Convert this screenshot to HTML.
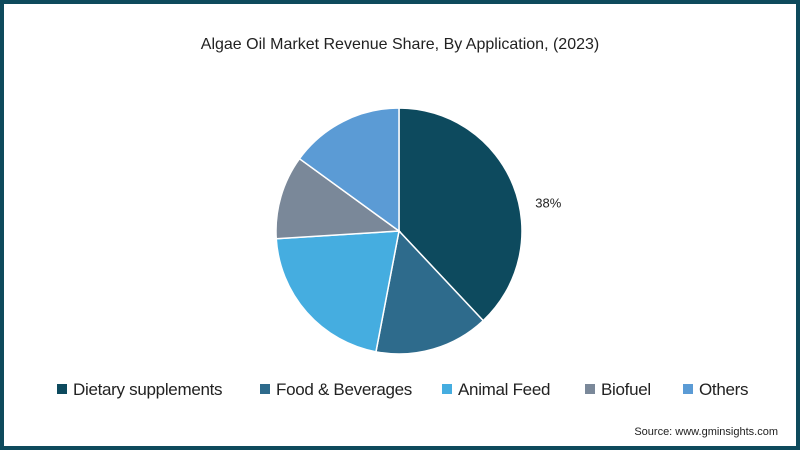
<!DOCTYPE html>
<html><head><meta charset="utf-8"><style>
body{margin:0;width:800px;height:450px;overflow:hidden;font-family:"Liberation Sans",sans-serif;}
#frame{position:absolute;left:0;top:0;width:792px;height:442px;border:4px solid #0e4a5c;background:#fff;}
.t{position:absolute;white-space:nowrap;color:#222;}
.leg{position:absolute;top:380px;font-size:17px;color:#222;white-space:nowrap;letter-spacing:-0.3px;}
.leg i{display:inline-block;width:10px;height:10px;margin-right:6px;vertical-align:1px;}
</style></head><body>
<div id="frame"></div>
<div class="t" style="left:0;width:800px;text-align:center;top:36px;font-size:16px;">Algae Oil Market Revenue Share, By Application, (2023)</div>
<svg id="pie" width="800" height="450" style="position:absolute;left:0;top:0"></svg>
<div class="leg" style="left:57px"><i style="background:#0d4a5e"></i>Dietary supplements</div>
<div class="leg" style="left:260px"><i style="background:#2e6b8c"></i>Food &amp; Beverages</div>
<div class="leg" style="left:442px"><i style="background:#45ade0"></i>Animal Feed</div>
<div class="leg" style="left:585px"><i style="background:#7a8899"></i>Biofuel</div>
<div class="leg" style="left:683px"><i style="background:#5b9bd5"></i>Others</div>
<div class="t" style="right:22px;top:426px;font-size:11px;">Source: www.gminsights.com</div>
<script>
const categories=["Dietary supplements","Food & Beverages","Animal Feed","Biofuel","Others"];
const values=[38,15,21,11,15];
const labels=["38%","","","",""];
const colors=["#0d4a5e","#2e6b8c","#45ade0","#7a8899","#5b9bd5"];
const svg=document.getElementById('pie');
const cx=399,cy=231,r=123,NS="http://www.w3.org/2000/svg";
const total=values.reduce((a,b)=>a+b,0);
let a0=0;
function pt(a,rr){return [cx+rr*Math.sin(a),cy-rr*Math.cos(a)];}
values.forEach((v,i)=>{
  const a1=a0+v/total*2*Math.PI;
  const p0=pt(a0,r),p1=pt(a1,r);
  const p=document.createElementNS(NS,'path');
  p.setAttribute('d',`M${cx},${cy}L${p0[0]},${p0[1]}A${r},${r} 0 ${a1-a0>Math.PI?1:0} 1 ${p1[0]},${p1[1]}Z`);
  p.setAttribute('fill',colors[i]);p.setAttribute('stroke','#fff');p.setAttribute('stroke-width','1.5');
  
  
  svg.appendChild(p);
  if(labels[i]){
    const m=(a0+a1)/2,lp=pt(m,r+30);
    const t=document.createElementNS(NS,'text');
    t.setAttribute('x',lp[0]+7);t.setAttribute('y',lp[1]+33);
    t.setAttribute('font-size','13');t.setAttribute('fill','#222');t.setAttribute('text-anchor','middle');
    t.setAttribute('font-family','Liberation Sans, sans-serif');
    t.textContent=labels[i];
    
    
    svg.appendChild(t);
  }
  a0=a1;
});
</script>
</body></html>
